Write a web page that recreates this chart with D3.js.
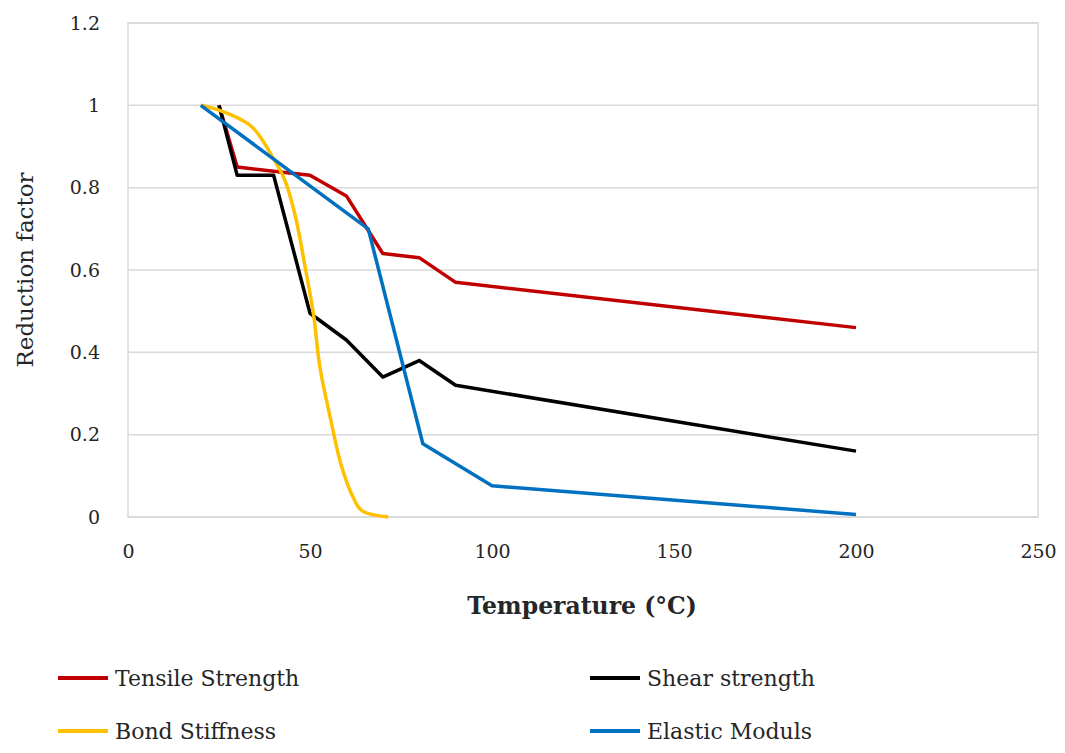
<!DOCTYPE html>
<html>
<head>
<meta charset="utf-8">
<script src="https://cdn.jsdelivr.net/npm/d3@7"></script>
<style>
  body { margin: 0; background: #fff; }
  text { font-family: "DejaVu Serif", "Liberation Serif", serif; fill: #262626; }
</style>
</head>
<body>
<div id="wrapper"></div>
<script>
const w = 1065
const h = 753

// values
const tensileT = [25, 30, 40, 50, 60, 70, 80, 90, 200]
const tensileV = [1, 0.85, 0.84, 0.83, 0.78, 0.64, 0.63, 0.57, 0.46]

const shearT = [25, 30, 40, 50, 60, 70, 80, 90, 200]
const shearV = [1, 0.83, 0.83, 0.495, 0.43, 0.34, 0.38, 0.32, 0.16]

const bondT = [20, 26, 34, 40, 43, 46, 48.6, 51, 52.7, 55.5, 58.7, 62, 64.3, 71.5]
const bondV = [1, 0.985, 0.948, 0.87, 0.82, 0.73, 0.61, 0.49, 0.365, 0.244, 0.122, 0.045, 0.015, 0]

const elasticT = [20, 66, 81, 100, 200]
const elasticV = [1, 0.70, 0.178, 0.076, 0.006]

const seriesNames = ["Tensile Strength", "Shear strength", "Bond Stiffness", "Elastic Moduls"]
const seriesColors = ["#C00000", "#000000", "#FFC000", "#0070C0"]

const xTicks = [0, 50, 100, 150, 200, 250]
const yTicks = [0, 0.2, 0.4, 0.6, 0.8, 1, 1.2]

const margin = { left: 128, right: 27, top: 23, bottom: 236 }

const svg = d3.select("#wrapper").append("svg")
  .attr("width", w)
  .attr("height", h)

const x = d3.scaleLinear().domain([0, 250]).range([margin.left, w - margin.right])
const y = d3.scaleLinear().domain([0, 1.2]).range([h - margin.bottom, margin.top])

// gridlines
svg.append("g")
  .selectAll("line")
  .data(yTicks)
  .join("line")
  .attr("x1", x(0))
  .attr("x2", x(250))
  .attr("y1", d => y(d))
  .attr("y2", d => y(d))
  .attr("stroke", "#d9d9d9")
  .attr("stroke-width", 1.5)

// plot frame
svg.append("rect")
  .attr("x", x(0))
  .attr("y", y(1.2))
  .attr("width", x(250) - x(0))
  .attr("height", y(0) - y(1.2))
  .attr("fill", "none")
  .attr("stroke", "#d9d9d9")
  .attr("stroke-width", 1.5)

// axes (labels only, Excel style)
const xAxis = svg.append("g")
  .attr("transform", `translate(0,${y(0)})`)
  .call(d3.axisBottom(x).tickValues(xTicks).tickSize(0).tickPadding(28).tickFormat(d3.format("d")))
xAxis.select(".domain").remove()
xAxis.selectAll("text").style("font-size", "19px").attr("fill", "#262626")
  .style("font-family", "DejaVu Serif")

const yAxis = svg.append("g")
  .attr("transform", `translate(${x(0)},0)`)
  .call(d3.axisLeft(y).tickValues(yTicks).tickSize(0).tickPadding(28).tickFormat(d => d3.format("")(d)))
yAxis.select(".domain").remove()
yAxis.selectAll("text").style("font-size", "19px").attr("fill", "#262626")
  .style("font-family", "DejaVu Serif")

// axis titles
svg.append("text")
  .attr("x", 582)
  .attr("y", 614)
  .attr("text-anchor", "middle")
  .style("font-size", "23.5px")
  .style("font-weight", "bold")
  .text("Temperature (°C)")

svg.append("text")
  .attr("transform", `translate(33,${270}) rotate(-90)`)
  .attr("text-anchor", "middle")
  .style("font-size", "23px")
  .text("Reduction factor")

// lines
const allSeries = [
  { t: tensileT, v: tensileV, curve: d3.curveLinear },
  { t: shearT, v: shearV, curve: d3.curveLinear },
  { t: bondT, v: bondV, curve: d3.curveCatmullRom },
  { t: elasticT, v: elasticV, curve: d3.curveLinear }
]

allSeries.forEach((s, i) => {
  const pts = s.t.map((t, j) => [t, s.v[j]])
  const line = d3.line()
    .x(d => x(d[0]))
    .y(d => y(d[1]))
    .curve(s.curve)
  svg.append("path")
    .datum(pts)
    .attr("d", line)
    .attr("fill", "none")
    .attr("stroke", seriesColors[i])
    .attr("stroke-width", 3.5)
    .attr("stroke-linejoin", "round")
})

// legend
const legendX = [58, 590]
const legendY = [678, 731]
const legend = svg.append("g")
  .selectAll("g")
  .data(seriesNames)
  .join("g")
  .attr("transform", (d, i) => `translate(${legendX[i % 2]},${legendY[Math.floor(i / 2)]})`)

legend.append("line")
  .attr("x1", 0)
  .attr("x2", 50)
  .attr("stroke", (d, i) => seriesColors[i])
  .attr("stroke-width", 4)

legend.append("text")
  .attr("x", 57)
  .attr("y", 8)
  .style("font-size", "22px")
  .text(d => d)
</script>
</body>
</html>
